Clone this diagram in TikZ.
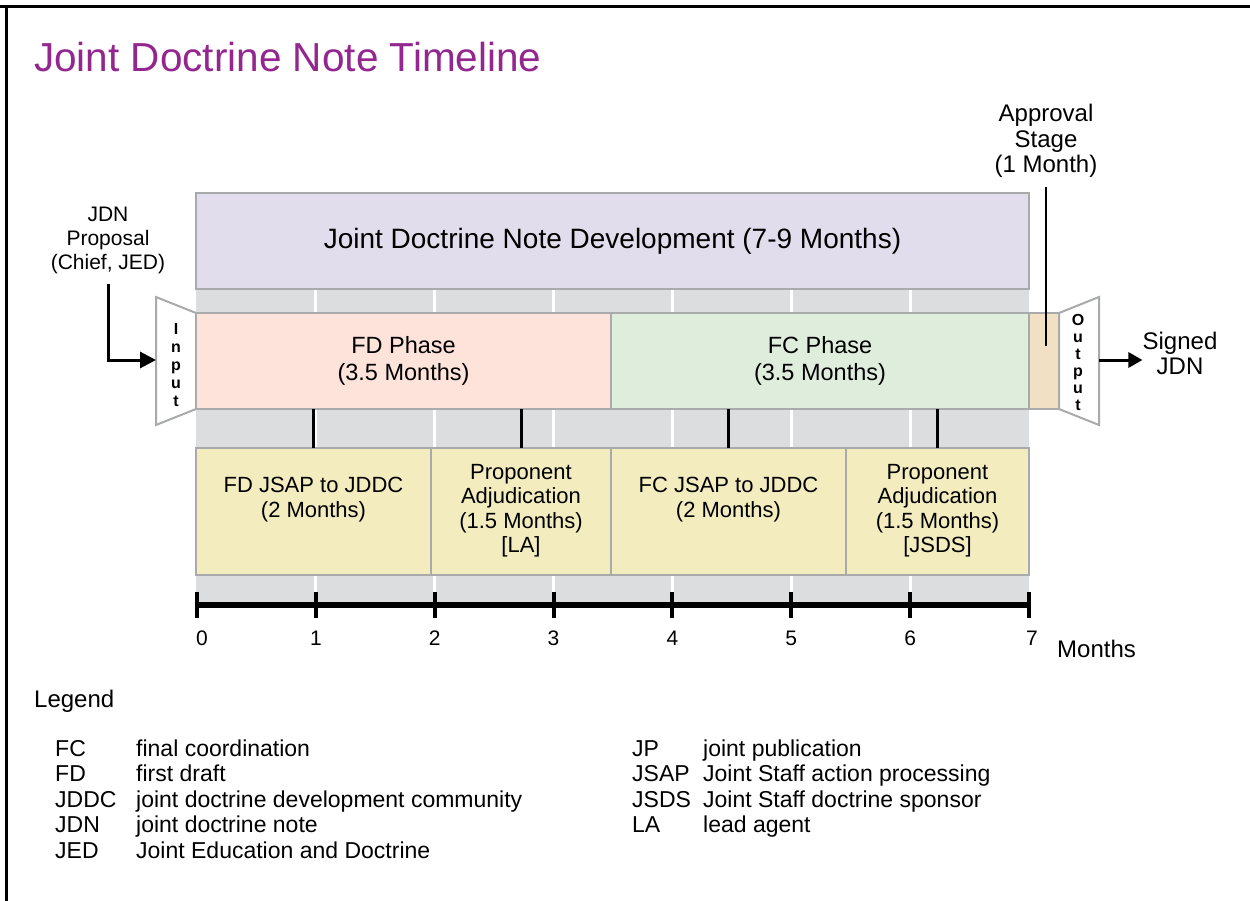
\documentclass[tikz,border=0pt]{standalone}
\usepackage{fontspec}
\setmainfont{Liberation Sans}
\usetikzlibrary{arrows.meta,calc}
\definecolor{titlepurple}{HTML}{93278F}
\definecolor{devfill}{HTML}{E2DDEC}
\definecolor{bandgray}{HTML}{DCDDDE}
\definecolor{fdfill}{HTML}{FDE3DA}
\definecolor{fcfill}{HTML}{DFEEDC}
\definecolor{apfill}{HTML}{F2E0C4}
\definecolor{subfill}{HTML}{F3ECBF}
\definecolor{boxgray}{HTML}{A9AAAC}
\newcommand{\myfs}[2]{\fontsize{#1}{#2}\selectfont}
\begin{document}
\begin{tikzpicture}[x=1pt,y=-1pt,
  box/.style={draw=boxgray,line width=2.5pt,inner sep=0pt,outer sep=0pt,align=center,anchor=north west},
  devtxt/.style={font=\myfs{28}{32}},
  phasetxt/.style={font=\myfs{23.5}{26.5}},
  subtxt/.style={font=\myfs{22}{24.5},align=center,inner sep=0pt},
  ann/.style={align=center,inner sep=0pt},
  leg/.style={font=\myfs{23}{25},inner sep=0pt,anchor=base west},
  vert/.style={align=center,inner sep=0pt},
  trap/.style={draw=boxgray,line width=2pt,fill=white,line join=miter},
  arr/.style={draw=black,line width=3pt,-{Triangle[length=16pt,width=16pt]}},
  arrb/.style={draw=black,line width=3pt,-{Triangle[length=14pt,width=15pt]}},
  lead/.style={draw=black,line width=1.5pt},
  conn/.style={draw=black,line width=3pt},
  gapline/.style={draw=white,line width=3pt},
  axisline/.style={draw=black,line width=6pt},
  tickmark/.style={draw=black,line width=4pt},
  monthlbl/.style={font=\myfs{21}{24},inner sep=0pt,anchor=base},
]
\useasboundingbox (0,0) rectangle (1250,901);
\fill[white] (0,0) rectangle (1250,901);
% frame
\draw[line width=3pt] (0,6.5) -- (1250,6.5);
\draw[line width=3pt] (6.5,5) -- (6.5,901);

% title
\node[font=\myfs{40.5}{44},text=titlepurple,anchor=base west,inner sep=0pt] (title) at (34,72) {Joint Doctrine Note Timeline};

% gray band with white month gaps
\fill[bandgray] (196,260) rectangle (1029,605);
\foreach \m in {1,...,6} \draw[gapline] ({197+118.86*\m},260) -- ++(0,345);

% development box
\node[box,fill=devfill,minimum width=833pt,minimum height=96pt,devtxt] (dev) at (196,193) {Joint Doctrine Note Development (7-9 Months)};

% input / output trapezoids
\draw[trap] (196,313) -- (156,297) -- (156,425) -- (196,409) -- cycle;
\draw[trap] (1059,313) -- (1099,297) -- (1099,425) -- (1059,409) -- cycle;
\coordinate (inL) at (156,360);
\coordinate (outR) at (1099,360);
\node[vert,font=\bfseries\myfs{16}{18}] (inputtxt) at (176,365) {I\\n\\p\\u\\t};
\node[vert,font=\bfseries\myfs{16}{17}] (outputtxt) at (1078,362) {O\\u\\t\\p\\u\\t};

% phases
\node[box,fill=fdfill,minimum width=415pt,minimum height=96pt,phasetxt] (fd) at (196,313) {FD Phase\\(3.5 Months)};
\node[box,fill=fcfill,minimum width=418pt,minimum height=96pt,phasetxt] (fc) at (611,313) {FC Phase\\(3.5 Months)};
\node[box,fill=apfill,minimum width=30pt,minimum height=96pt] (appr) at (1029,313) {};

% sub tasks
\node[box,fill=subfill,minimum width=235pt,minimum height=127pt] (s1) at (196,448) {};
\node[box,fill=subfill,minimum width=180pt,minimum height=127pt] (s2) at (431,448) {};
\node[box,fill=subfill,minimum width=235pt,minimum height=127pt] (s3) at (611,448) {};
\node[box,fill=subfill,minimum width=183pt,minimum height=127pt] (s4) at (846,448) {};
\node[subtxt] (t1) at ([yshift=12pt]s1.center) {FD JSAP to JDDC\\(2 Months)};
\node[subtxt] (t2) at ([yshift=1pt]s2.center) {Proponent\\Adjudication\\(1.5 Months)\\{[LA]}};
\node[subtxt] (t3) at ([yshift=12pt]s3.center) {FC JSAP to JDDC\\(2 Months)};
\node[subtxt] (t4) at ([yshift=1pt]s4.center) {Proponent\\Adjudication\\(1.5 Months)\\{[JSDS]}};

% connectors phase -> sub tasks
\draw[conn] (s1.north) -- (s1.north |- fd.south);
\draw[conn] (s2.north) -- (s2.north |- fd.south);
\draw[conn] (s3.north) -- (s3.north |- fc.south);
\draw[conn] (s4.north) -- (s4.north |- fc.south);

% axis
\coordinate (m0) at (197,605);
\coordinate (m7) at (1029,605);
\draw[axisline] (m0) -- (m7);
\foreach \m in {0,...,7} \draw[tickmark] ({197+118.86*\m},592) -- ++(0,26);
\foreach \m/\dx in {0/5,1/0,2/0,3/0,4/0,5/0,6/0,7/3}
  \node[monthlbl] (lbl\m) at ({197+118.86*\m+\dx},645) {\m};
\node[font=\myfs{24}{26},anchor=base west,inner sep=0pt] (monthsword) at (1057,657) {Months};

% annotations
\node[ann,font=\myfs{21}{24}] (jdn) at (108,240) {JDN\\Proposal\\(Chief, JED)};
\draw[arr] ([yshift=-10pt]jdn.south) |- (inL);
\node[ann,font=\myfs{24}{25.5}] (aptext) at (1046,141) {Approval\\Stage\\(1 Month)};
\draw[lead] ([yshift=-9pt]aptext.south) -- ++(0,159);
\node[ann,font=\myfs{24}{25}] (signed) at (1180,353) {Signed\\JDN};
\draw[arrb] (outR) -- (outR -| signed.west);

% legend
\node[font=\myfs{24}{26},anchor=base west,inner sep=0pt] (legendhead) at (34,707) {Legend};
\foreach \a/\d [count=\i from 0] in {FC/final coordination, FD/first draft, JDDC/joint doctrine development community, JDN/joint doctrine note, JED/Joint Education and Doctrine} {
  \node[leg] (la\i) at (55,{756+25.5*\i}) {\a};
  \node[leg] (ld\i) at (136,{756+25.5*\i}) {\d};
}
\foreach \a/\d [count=\i from 0] in {JP/joint publication, JSAP/Joint Staff action processing, JSDS/Joint Staff doctrine sponsor, LA/lead agent} {
  \node[leg] (ra\i) at (632,{756+25.5*\i}) {\a};
  \node[leg] (rd\i) at (703,{756+25.5*\i}) {\d};
}
\end{tikzpicture}
\end{document}
